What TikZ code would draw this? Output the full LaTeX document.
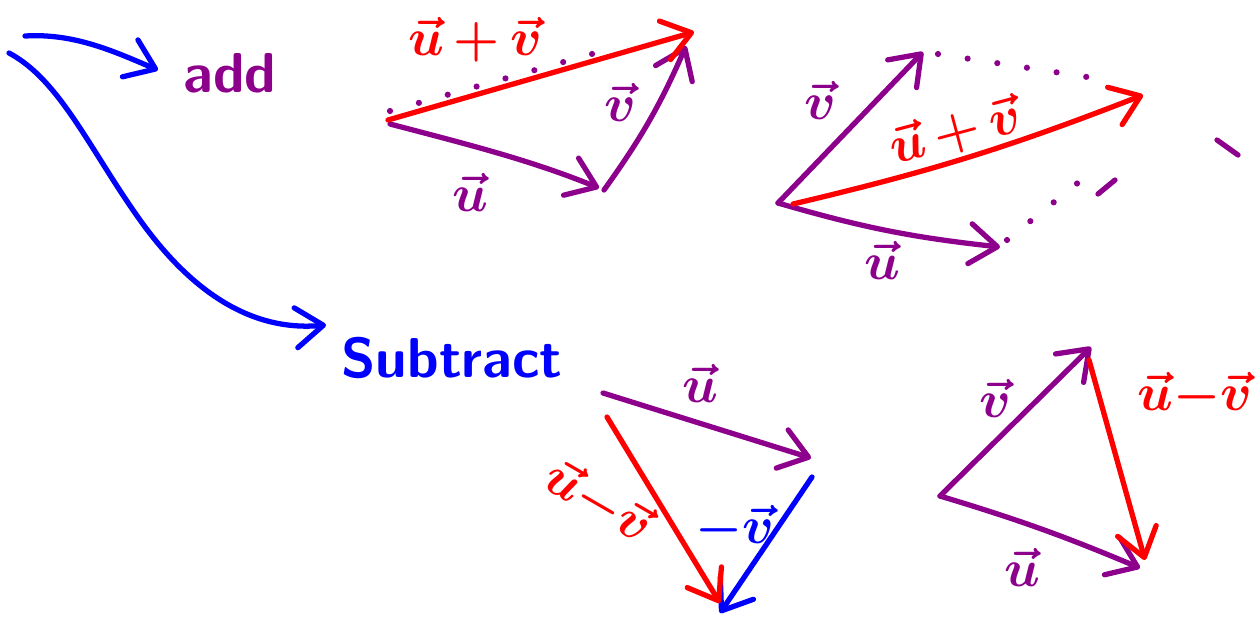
\documentclass[tikz,border=0pt]{standalone}
\usepackage{fix-cm}
\usepackage{amsmath}
\usepackage{xcolor}
\usepackage{tikz}
\usetikzlibrary{arrows.meta}
\definecolor{inkpurple}{RGB}{140,0,140}
\definecolor{inkred}{RGB}{255,0,0}
\definecolor{inkblue}{RGB}{0,0,255}
\tikzset{
	ink/.style = {line width=3pt,line cap=round,line join=round},
	vecarrow/.style = {ink,-{Straight Barb[length=0.55cm,width=0.8cm,round]}},
	inkdots/.style = {line width=3.5pt,line cap=round,dash pattern=on 0pt off 0.6cm},
	veclabel/.style = {font=\fontsize{30}{36}\selectfont\boldmath,inner sep=0pt},
	wordlabel/.style = {font=\fontsize{32}{38}\selectfont\sffamily\bfseries,inner sep=0pt}
}

\begin{document}
\begin{tikzpicture}[x=0.02cm,y=-0.02cm]
	\useasboundingbox (0,0) rectangle (1259,623);

	\node[wordlabel,inkpurple] (addWord) at (230,73) {add};
	\node[wordlabel,inkblue] (subWord) at (452,358) {Subtract};
	\coordinate (addFrom) at (25,36);
	\coordinate (addTo) at (158,70);
	\coordinate (subFrom) at (9,53);
	\coordinate (subMid) at (140,220);
	\coordinate (subTo) at (326,325);
	\draw[vecarrow,inkblue] (addFrom) .. controls (75,33) and (115,52) .. (addTo);
	\draw[vecarrow,inkblue] (subFrom) .. controls (60,80) and (90,150) .. (subMid) .. controls (190,290) and (250,332) .. (subTo);

	\coordinate (triO) at (390,124);
	\coordinate (triU) at (599,188);
	\coordinate (triV0) at (604,190);
	\coordinate (triV) at (686,46);
	\coordinate (triS0) at (388,120);
	\coordinate (triS) at (694,32);
	\coordinate (triD1) at (390,111);
	\coordinate (triD2) at (606,50);
	\draw[inkdots,inkpurple] (triD1) -- (triD2);
	\draw[vecarrow,inkpurple] (triO) .. controls (470,145) and (530,160) .. (triU);
	\draw[vecarrow,inkpurple] (triV0) to[bend right=6] (triV);
	\draw[vecarrow,inkred] (triS0) -- (triS);
	\node[veclabel,inkred] (triSLabel) at (475,40) {$\vec{u}\,{+}\,\vec{v}$};
	\node[veclabel,inkpurple] (triULabel) at (470,192) {$\vec{u}$};
	\node[veclabel,inkpurple] (triVLabel) at (620,102) {$\vec{v}$};

	\coordinate (parO) at (778,203);
	\coordinate (parV) at (923,52);
	\coordinate (parU) at (1000,247);
	\coordinate (parS0) at (793,204);
	\coordinate (parS) at (1143,95);
	\coordinate (parD1) at (938,54);
	\coordinate (parD2) at (1113,81);
	\coordinate (parD3) at (1007,240);
	\coordinate (parD4) at (1090,173);
	\coordinate (parE1) at (1098,194);
	\coordinate (parE2) at (1115,180);
	\coordinate (parE3) at (1217,140);
	\coordinate (parE4) at (1238,155);
	\draw[inkdots,inkpurple] (parD1) -- (parD2);
	\draw[inkdots,inkpurple] (parD3) -- (parD4);
	\draw[ink,inkpurple] (parE1) -- (parE2);
	\draw[ink,inkpurple] (parE3) -- (parE4);
	\draw[vecarrow,inkpurple] (parO) -- (parV);
	\draw[vecarrow,inkpurple] (parO) to[bend right=5] (parU);
	\draw[vecarrow,inkred] (parS0) to[bend right=4] (parS);
	\node[veclabel,inkpurple] (parVLabel) at (820,100) {$\vec{v}$};
	\node[veclabel,inkred,rotate=15] (parSLabel) at (955,132) {$\vec{u}\,{+}\,\vec{v}$};
	\node[veclabel,inkpurple] (parULabel) at (882,260) {$\vec{u}$};

	\coordinate (subO) at (603,393);
	\coordinate (subU) at (811,458);
	\coordinate (subW0) at (812,477);
	\coordinate (subW) at (720,613);
	\coordinate (subR0) at (607,417);
	\coordinate (subR) at (720,603);
	\draw[vecarrow,inkpurple] (subO) -- (subU);
	\draw[vecarrow,inkblue] (subW0) -- (subW);
	\draw[vecarrow,inkred] (subR0) -- (subR);
	\node[veclabel,inkpurple] (subULabel) at (700,383) {$\vec{u}$};
	\node[veclabel,inkred,rotate=-30] (subRLabel) at (598,502) {$\vec{u}{-}\vec{v}$};
	\node[veclabel,inkblue] (subWLabel) at (735,528) {$-\vec{v}$};

	\coordinate (difO) at (940,496);
	\coordinate (difV) at (1091,347);
	\coordinate (difU) at (1140,568);
	\coordinate (difR0) at (1089,360);
	\coordinate (difR) at (1145,560);
	\draw[vecarrow,inkpurple] (difO) -- (difV);
	\draw[vecarrow,inkpurple] (difO) to[bend left=3] (difU);
	\draw[vecarrow,inkred] (difR0) -- (difR);
	\node[veclabel,inkpurple] (difVLabel) at (995,398) {$\vec{v}$};
	\node[veclabel,inkpurple] (difULabel) at (1022,567) {$\vec{u}$};
	\node[veclabel,inkred] (difRLabel) at (1195,395) {$\vec{u}{-}\vec{v}$};
\end{tikzpicture}
\end{document}
